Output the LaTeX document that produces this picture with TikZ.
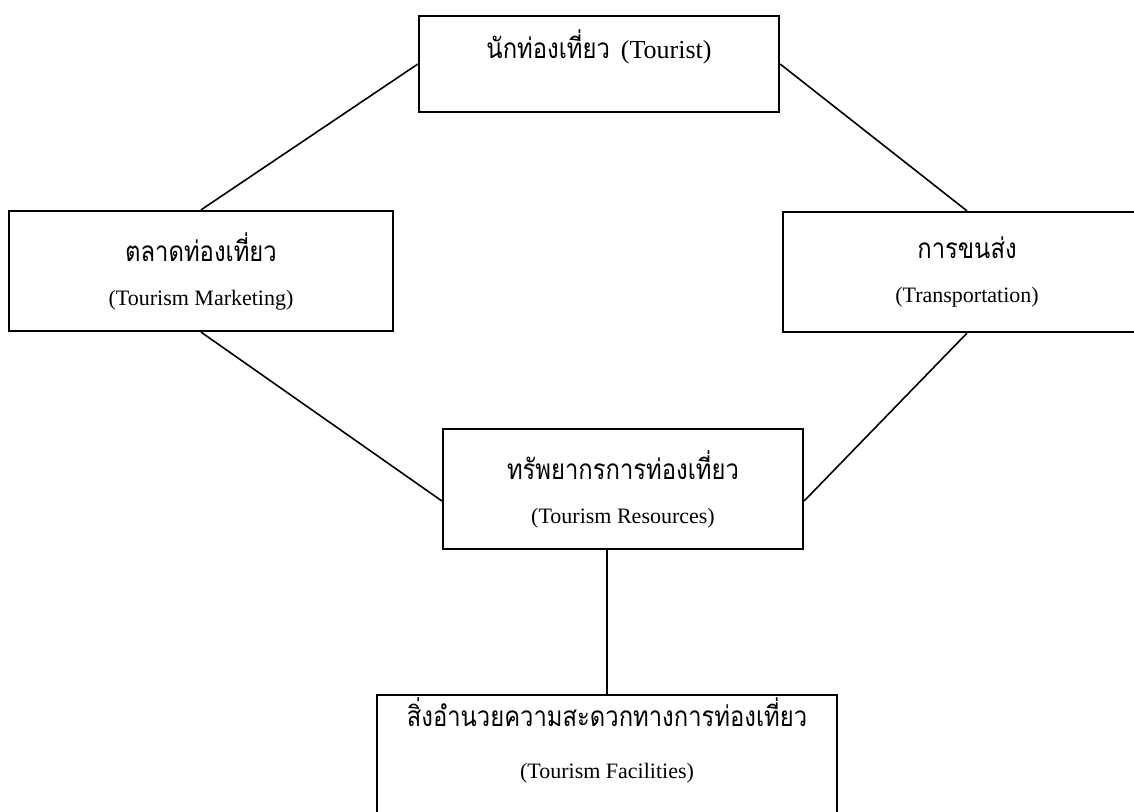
\documentclass[tikz,border=0pt]{standalone}
\usepackage{fontspec}
\setmainfont{Liberation Serif}
\newfontfamily\thaifont[Script=Thai]{Loma}
\usepackage{graphicx}
\usepackage{tikz}
\usetikzlibrary{positioning}

\newcommand{\thtxt}[1]{{\thaifont\fontsize{14}{16}\selectfont\scalebox{0.85}[1]{#1}}}
\newcommand{\entxt}[1]{{\fontsize{11}{13}\selectfont #1}}

\tikzset{
  box/.style={draw=black, line width=1.1pt, rectangle, align=center, inner sep=0pt,
    minimum width=180pt, minimum height=60pt, font=\fontsize{11}{22}\selectfont},
  link/.style={draw=black, line width=0.8pt}
}

\begin{document}
\begin{tikzpicture}[x=0.5pt,y=-0.5pt]
\useasboundingbox (0,0) rectangle (1134,812);
\clip (0,0) rectangle (1134,812);

% boxes
\node[box, minimum height=48pt, text depth=20pt] (tour) at (599,64)
  {\thtxt{นักท่องเที่ยว}\ \ {\fontsize{13}{15}\selectfont(Tourist)}};
\node[box, minimum width=192pt] (mkt) at (201,271)
  {\thtxt{ตลาดท่องเที่ยว}\\\entxt{(Tourism Marketing)}};
\node[box, minimum width=184pt] (trans) at (967,272)
  {\thtxt{การขนส่ง}\\\entxt{(Transportation)}};
\node[box] (res) at (623,489)
  {\thtxt{ทรัพยากรการท่องเที่ยว}\\\entxt{(Tourism Resources)}};
\node[box, minimum width=230pt, font=\fontsize{11}{26}\selectfont, text depth=17pt] (fac) at (607,755)
  {\thtxt{สิ่งอำนวยความสะดวกทางการท่องเที่ยว}\\\entxt{(Tourism Facilities)}};

% connectors
\draw[link] (tour.west) -- (mkt.north);
\draw[link] (tour.east) -- (trans.north);
\draw[link] (mkt.south) -- ([yshift=-6pt]res.west);
\draw[link] (trans.south) -- ([yshift=-6pt]res.east);
\draw[link] (fac.north) -- (fac.north |- res.south);
\end{tikzpicture}
\end{document}
